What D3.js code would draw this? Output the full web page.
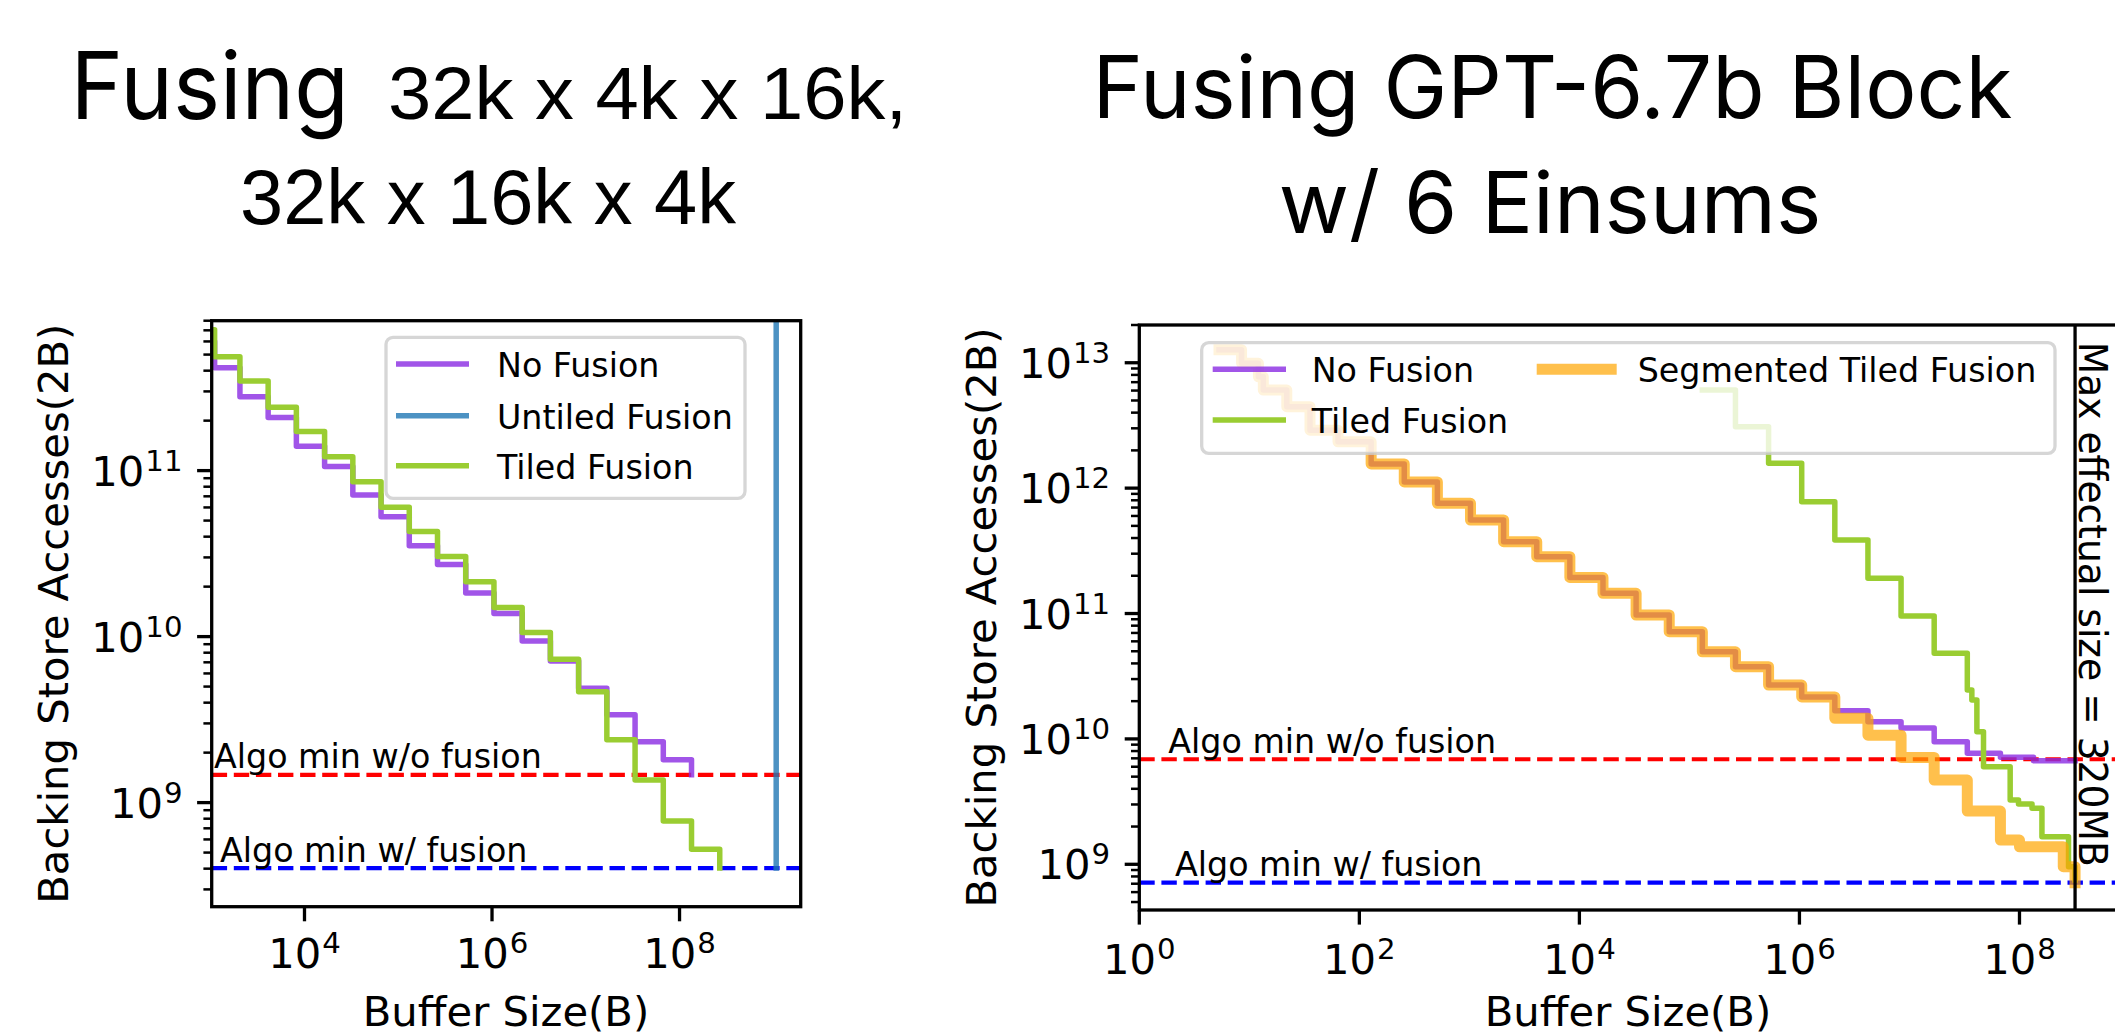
<!DOCTYPE html>
<html>
<head>
<meta charset="utf-8">
<script src="https://cdn.jsdelivr.net/npm/d3@7"></script>
<style>
body { margin: 0; background: #fff; overflow: hidden; }
svg text { font-family: "DejaVu Sans", sans-serif; fill: #000; }
</style>
</head>
<body>
<div id="chart"></div>
<script>
// ---- left panel: 32k x 4k x 16k, 32k x 16k x 4k ----
var LEFT_SIZES = [1024, 1100, 2048, 4096, 8192, 16384, 32768, 65536, 131072, 262144, 524288,
                  1048576, 2097152, 4194304, 8388608, 16777216, 33554432, 67108864, 134217728, 268435456];
var LEFT_TILED = [7.05e11, 4.86e11, 3.47e11, 2.41e11, 1.72e11, 1.21e11, 8.58e10, 6.02e10, 4.30e10, 3.04e10, 2.14e10,
                  1.50e10, 1.06e10, 7.31e9, 4.66e9, 2.39e9, 1.37e9, 7.74e8, 5.23e8, 4.03e8];
var LEFT_NO_FUSION = [6.0e11, 4.17e11, 2.79e11, 2.09e11, 1.40e11, 1.06e11, 7.14e10, 5.28e10, 3.53e10, 2.72e10, 1.83e10,
                      1.38e10, 9.42e9, 7.14e9, 4.89e9, 3.38e9, 2.33e9, 1.81e9, 1.47e9];
var LEFT_UNTILED_SIZES = [1073741824, 1073741824];
var LEFT_UNTILED = [1e13, 4.03e8];
var LEFT_ALGO_MIN = [1.47e9, 4.03e8];   // w/o fusion, w/ fusion
var LEFT_X_TICKS = [1e4, 1e6, 1e8];
var LEFT_Y_TICKS = [1e9, 1e10, 1e11];

// ---- right panel: GPT-6.7b block ----
var RIGHT_NF_SIZES = [5.3, 8.5, 12.1, 13.4, 21.9, 35.6, 64, 128, 256, 512, 1024, 2048, 4096, 8192, 16384, 32768,
                      65536, 131072, 262144, 524288, 1048576, 2097152, 4194304, 8388608, 16777216, 33554432,
                      67108864, 134217728, 320000000];
var RIGHT_NO_FUSION = [1.27e13, 9.89e12, 7.73e12, 6.05e12, 4.46e12, 2.90e12, 2.34e12, 1.56e12, 1.12e12, 7.57e11,
                       5.57e11, 3.74e11, 2.84e11, 1.94e11, 1.45e11, 9.73e10, 7.16e10, 4.95e10, 3.77e10, 2.69e10,
                       2.16e10, 1.68e10, 1.37e10, 1.22e10, 9.51e9, 7.67e9, 7.13e9, 6.70e9, 6.70e9];
var RIGHT_TF_SIZES = [131072, 262144, 524288, 1048576, 2097152, 4194304, 8388608, 16777216, 33554432,
                      36900000, 41000000, 47100000, 82300000, 98000000, 130000000, 160000000, 279000000, 320000000];
var RIGHT_TILED = [6.05e12, 3.09e12, 1.58e12, 7.80e11, 3.86e11, 1.91e11, 9.55e10, 4.82e10, 2.45e10,
                   2.04e10, 1.14e10, 6.0e9, 3.26e9, 3.03e9, 2.80e9, 1.66e9, 9.57e8, 7.5e8];
var RIGHT_STF_SIZES = [5.3, 8.5, 12.1, 13.4, 21.9, 35.6, 64, 128, 256, 512, 1024, 2048, 4096, 8192, 16384, 32768,
                       65536, 131072, 262144, 524288, 1048576, 2097152, 4194304, 8388608, 16777216, 33554432,
                       67108864, 100000000, 250000000, 320000000];
var RIGHT_SEGMENTED = [1.27e13, 9.89e12, 7.73e12, 6.05e12, 4.46e12, 2.90e12, 2.34e12, 1.56e12, 1.12e12, 7.57e11,
                       5.57e11, 3.74e11, 2.84e11, 1.94e11, 1.45e11, 9.73e10, 7.16e10, 4.95e10, 3.77e10, 2.69e10,
                       2.16e10, 1.46e10, 1.07e10, 7.11e9, 4.70e9, 2.66e9, 1.56e9, 1.38e9, 9.57e8, 7.13e8];
var RIGHT_ALGO_MIN = [6.88e9, 7.13e8];
var RIGHT_MAX_EFFECTUAL = 3.2e8;
var RIGHT_X_TICKS = [1, 1e2, 1e4, 1e6, 1e8];
var RIGHT_Y_TICKS = [1e9, 1e10, 1e11, 1e12, 1e13];

var ALGO_LABELS = ["Algo min w/o fusion", "Algo min w/ fusion"];
var ALGO_COLORS = ["#ff0000", "#0000ff"];

var W = 2115, H = 1036;
var svg = d3.select("#chart").append("svg").attr("width", W).attr("height", H);

function zip(xs, ys) {
  return ys.map(function (v, i) { return [xs[i], v]; });
}

function tenPow(sel, v, bigSize, supSize) {
  var e = Math.round(Math.log10(v));
  sel.append("tspan").attr("font-size", bigSize).text("10");
  sel.append("tspan").attr("font-size", supSize).attr("dy", -15).attr("dx", 1).text(e);
}

function panel(p) {
  var g = svg.append("g");
  var x = d3.scaleLog().domain(p.xDomain).range([p.left, p.right]);
  var y = d3.scaleLog().domain(p.yDomain).range([p.bottom, p.top]);

  g.append("clipPath").attr("id", p.id).append("rect")
    .attr("x", p.left).attr("y", p.top)
    .attr("width", p.right - p.left).attr("height", p.bottom - p.top);
  var plot = g.append("g").attr("clip-path", "url(#" + p.id + ")");

  // algorithmic minimum lines
  p.algoMin.forEach(function (v, i) {
    plot.append("line")
      .attr("x1", p.left).attr("x2", p.right).attr("y1", y(v)).attr("y2", y(v))
      .attr("stroke", ALGO_COLORS[i]).attr("stroke-width", 4.2)
      .attr("stroke-dasharray", "15.4,6.7");
  });

  var line = d3.line()
    .x(function (d) { return x(d[0]); })
    .y(function (d) { return y(d[1]); })
    .curve(d3.curveStepAfter);

  p.series.forEach(function (s) {
    plot.append("path").datum(s.data)
      .attr("d", line)
      .attr("fill", "none")
      .attr("stroke", s.color)
      .attr("stroke-opacity", s.opacity)
      .attr("stroke-width", s.width)
      .attr("stroke-linejoin", "round")
      .attr("stroke-linecap", "square");
  });

  if (p.vline) {
    g.append("line")
      .attr("x1", x(p.vline)).attr("x2", x(p.vline)).attr("y1", p.top).attr("y2", p.bottom)
      .attr("stroke", "#000").attr("stroke-width", 3.3);
    g.append("text")
      .attr("transform", "translate(" + (x(p.vline) + 3.5) + "," + (p.top + 16.7) + ") rotate(90)")
      .attr("font-size", 39)
      .attr("textLength", 525).attr("lengthAdjust", "spacingAndGlyphs")
      .text("Max effectual size = 320MB");
  }

  p.algoMin.forEach(function (v, i) {
    g.append("text")
      .attr("x", p.left + p.algoTextDx[i]).attr("y", y(v) - 6.5)
      .attr("font-size", 33.3)
      .text(ALGO_LABELS[i]);
  });

  // frame
  g.append("rect")
    .attr("x", p.left).attr("y", p.top)
    .attr("width", p.right - p.left).attr("height", p.bottom - p.top)
    .attr("fill", "none").attr("stroke", "#000").attr("stroke-width", 3.3);

  // y ticks
  var minor = y.ticks().filter(function (v) {
    var l = Math.log10(v); return Math.abs(l - Math.round(l)) > 1e-6;
  });
  minor.forEach(function (v) {
    g.append("line").attr("x1", p.left - 8.3).attr("x2", p.left).attr("y1", y(v)).attr("y2", y(v))
      .attr("stroke", "#000").attr("stroke-width", 2.5);
  });
  p.yTicks.forEach(function (v) {
    g.append("line").attr("x1", p.left - 14.6).attr("x2", p.left).attr("y1", y(v)).attr("y2", y(v))
      .attr("stroke", "#000").attr("stroke-width", 3.3);
    var t = g.append("text").attr("x", p.left - 29.2).attr("y", y(v) + 15)
      .attr("text-anchor", "end");
    tenPow(t, v, 41.7, 29.2);
  });

  // x ticks
  p.xTicks.forEach(function (v) {
    g.append("line").attr("x1", x(v)).attr("x2", x(v)).attr("y1", p.bottom).attr("y2", p.bottom + 14.6)
      .attr("stroke", "#000").attr("stroke-width", 3.3);
    var t = g.append("text").attr("x", x(v)).attr("y", p.bottom + p.xLabelDy)
      .attr("text-anchor", "middle");
    tenPow(t, v, 41.7, 29.2);
  });

  // axis titles
  g.append("text")
    .attr("x", p.xTitleX).attr("y", 1026)
    .attr("text-anchor", "middle").attr("font-size", 41.7)
    .text("Buffer Size(B)");
  g.append("text")
    .attr("transform", "translate(" + p.yTitleX + "," + ((p.top + p.bottom) / 2) + ") rotate(-90)")
    .attr("text-anchor", "middle").attr("font-size", 41.7)
    .text("Backing Store Accesses(2B)");

  // legend
  var lg = g.append("g");
  lg.append("rect")
    .attr("x", p.legend.x).attr("y", p.legend.y).attr("width", p.legend.w).attr("height", p.legend.h)
    .attr("rx", 7).attr("fill", "#fff").attr("fill-opacity", 0.8)
    .attr("stroke", "#cccccc").attr("stroke-opacity", 0.8).attr("stroke-width", 3.3);
  p.legend.items.forEach(function (it) {
    var s = p.series[it.s];
    lg.append("line")
      .attr("x1", it.x + s.width / 2).attr("x2", it.x + it.len - s.width / 2)
      .attr("y1", it.y).attr("y2", it.y)
      .attr("stroke", s.color).attr("stroke-opacity", s.opacity)
      .attr("stroke-width", s.width).attr("stroke-linecap", "square");
    lg.append("text").attr("x", it.tx).attr("y", it.y + 13).attr("font-size", 33.3).text(s.label);
  });
}

// left panel
panel({
  id: "clipL",
  left: 211.7, right: 800.7, top: 320.7, bottom: 906.7,
  xDomain: [1024, 1.96e9], yDomain: [2.36e8, 8.0e11],
  xTicks: LEFT_X_TICKS, yTicks: LEFT_Y_TICKS,
  xLabelDy: 61.6,
  algoMin: LEFT_ALGO_MIN, algoTextDx: [2.3, 8.3],
  xTitleX: 506, yTitleX: 68,
  series: [
    { label: "No Fusion", data: zip(LEFT_SIZES, LEFT_NO_FUSION), color: "#8a2be2", opacity: 0.8, width: 5.5 },
    { label: "Tiled Fusion", data: zip(LEFT_SIZES, LEFT_TILED), color: "#9acd32", opacity: 1, width: 5.5 },
    { label: "Untiled Fusion", data: zip(LEFT_UNTILED_SIZES, LEFT_UNTILED), color: "#1f77b4", opacity: 0.8, width: 5.5 }
  ],
  legend: {
    x: 386, y: 337.3, w: 359, h: 161,
    items: [
      { s: 0, x: 396, len: 73, y: 364, tx: 497 },
      { s: 2, x: 396, len: 73, y: 415.7, tx: 497 },
      { s: 1, x: 396, len: 73, y: 465.7, tx: 497 }
    ]
  }
});

// right panel
panel({
  id: "clipR",
  left: 1139.3, right: 2125, top: 325, bottom: 910,
  xDomain: [1, 9.1e8], yDomain: [4.32e8, 2.0e13],
  xTicks: RIGHT_X_TICKS, yTicks: RIGHT_Y_TICKS,
  xLabelDy: 64,
  algoMin: RIGHT_ALGO_MIN, algoTextDx: [29, 35.7],
  xTitleX: 1628, yTitleX: 995.6,
  vline: RIGHT_MAX_EFFECTUAL,
  series: [
    { label: "No Fusion", data: zip(RIGHT_NF_SIZES, RIGHT_NO_FUSION), color: "#8a2be2", opacity: 0.8, width: 5.5 },
    { label: "Tiled Fusion", data: zip(RIGHT_TF_SIZES, RIGHT_TILED), color: "#9acd32", opacity: 1, width: 5.5 },
    { label: "Segmented Tiled Fusion", data: zip(RIGHT_STF_SIZES, RIGHT_SEGMENTED), color: "#ffa500", opacity: 0.7, width: 11 }
  ],
  legend: {
    x: 1201.7, y: 342.7, w: 853.3, h: 110.6,
    items: [
      { s: 0, x: 1212.7, len: 73.3, y: 369.3, tx: 1311.7 },
      { s: 1, x: 1212.7, len: 73.3, y: 420, tx: 1311.7 },
      { s: 2, x: 1536.7, len: 80, y: 369.3, tx: 1637.7 }
    ]
  }
});

// titles
var titles = svg.append("g");
titles.append("text").attr("x", 70.5).attr("y", 119.3)
  .style("font-family", "Inter, 'Open Sans', sans-serif").attr("font-size", 93)
  .attr("textLength", 278.5).attr("lengthAdjust", "spacingAndGlyphs")
  .text("Fusing");
titles.append("text").attr("x", 388).attr("y", 119.3)
  .style("font-family", "'Liberation Sans', Arial, sans-serif").attr("font-size", 75)
  .attr("textLength", 519).attr("lengthAdjust", "spacingAndGlyphs")
  .text("32k x 4k x 16k,");
titles.append("text").attr("x", 240).attr("y", 224)
  .style("font-family", "'Liberation Sans', Arial, sans-serif").attr("font-size", 78)
  .attr("textLength", 496).attr("lengthAdjust", "spacingAndGlyphs")
  .text("32k x 16k x 4k");
titles.append("text").attr("x", 1552.4).attr("y", 118.3).attr("text-anchor", "middle")
  .style("font-family", "Inter, 'Open Sans', sans-serif").attr("font-size", 87)
  .attr("textLength", 920).attr("lengthAdjust", "spacingAndGlyphs")
  .text("Fusing GPT-6.7b Block");
titles.append("text").attr("x", 1550).attr("y", 233.3).attr("text-anchor", "middle")
  .style("font-family", "Inter, 'Open Sans', sans-serif").attr("font-size", 85)
  .attr("textLength", 542.6).attr("lengthAdjust", "spacingAndGlyphs")
  .text("w/ 6 Einsums");
</script>
</body>
</html>
